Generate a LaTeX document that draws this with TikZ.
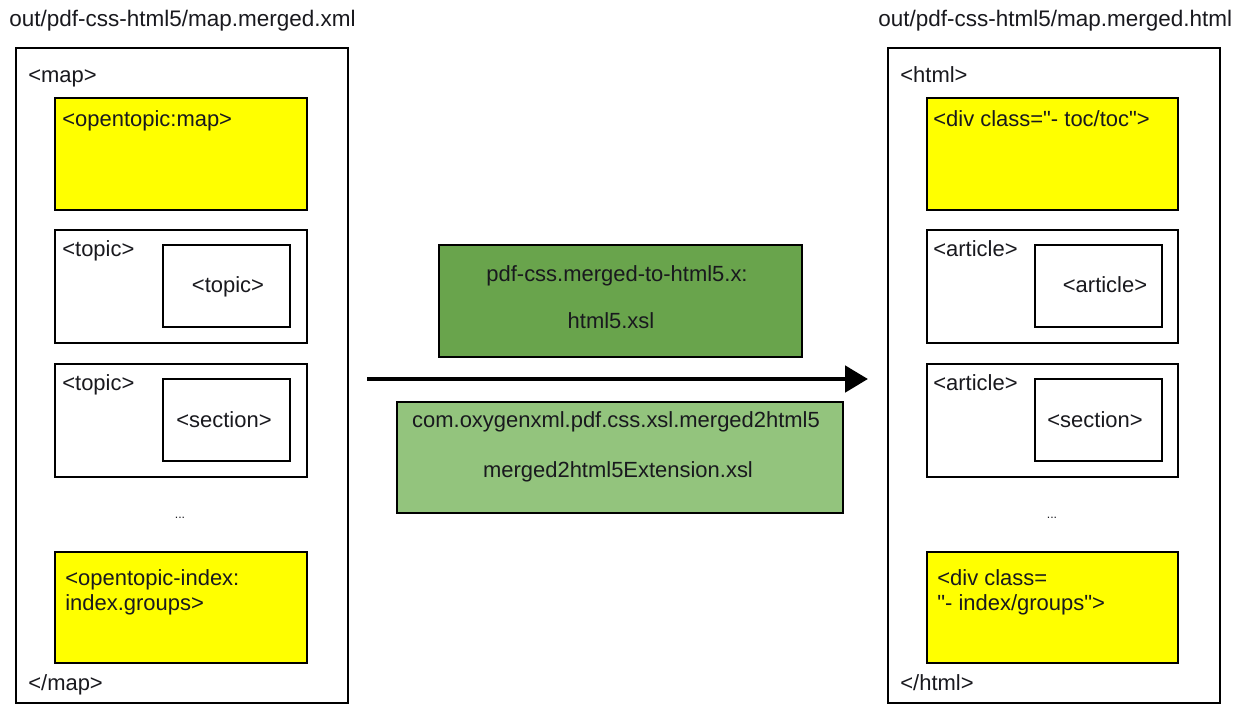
\documentclass[tikz,border=0pt]{standalone}
\usepackage{fontspec}
\setmainfont{Liberation Sans}[Ligatures=TeXOff]
\usetikzlibrary{fit,arrows.meta}
\definecolor{ylw}{RGB}{255,255,0}
\definecolor{dkgreen}{RGB}{105,164,76}
\definecolor{ltgreen}{RGB}{147,196,125}
\definecolor{ink}{RGB}{25,25,30}
\tikzset{
  box/.style={draw=black, line width=1.6pt, inner sep=0pt, fill=white},
  ybox/.style={box, fill=ylw},
  dbox/.style={box, fill=dkgreen},
  lbox/.style={box, fill=ltgreen},
  txt/.style={inner sep=0pt, text=ink, font=\fontsize{12.5}{15}\selectfont},
  ttl/.style={inner sep=0pt, text=ink, font=\fontsize{12.8}{15}\selectfont},
  flow/.style={line width=2.8pt, -{Triangle[length=0.46cm,width=0.52cm]}}
}
\begin{document}
\begin{tikzpicture}[x=0.02cm,y=-0.02cm]
\fill[white] (0,0) rectangle (1243,707);
\useasboundingbox (0,0) rectangle (1243,707);

% ---------------- left side ----------------
\node[ttl, anchor=base west] (ltitle) at (9,26) {out/pdf-css-html5/map.merged.xml};
\node[box, fit={(16,48)(348,703)}] (lout) {};
\node[txt, anchor=base west] (lmap) at (28,82) {<map>};
\node[ybox, fit={(55,98)(307,210)}] (ly1) {};
\node[txt, anchor=base west] (ly1t) at (62,126) {<opentopic:map>};
\node[box, fit={(55,230)(307,343)}] (lt1) {};
\node[txt, anchor=base west] (lt1t) at (62,256) {<topic>};
\node[box, fit={(163,245)(290,327)}] (lt1i) {};
\node[txt, anchor=base] (lt1it) at (228,292) {<topic>};
\node[box, fit={(55,364)(307,477)}] (lt2) {};
\node[txt, anchor=base west] (lt2t) at (62,390) {<topic>};
\node[box, fit={(163,379)(290,461)}] (lt2i) {};
\node[txt, anchor=base] (lt2it) at (224,427) {<section>};
\node[inner sep=0pt, font=\scriptsize, text=ink] (ldots) at (180,518) {...};
\node[ybox, fit={(55,552)(307,663)}] (ly2) {};
\node[txt, anchor=base west] (ly2a) at (65,585) {<opentopic-index:};
\node[txt, anchor=base west] (ly2b) at (65,610) {index.groups>};
\node[txt, anchor=base west] (lend) at (28,690) {</map>};

% ---------------- right side ----------------
\node[ttl, anchor=base west] (rtitle) at (878,26) {out/pdf-css-html5/map.merged.html};
\node[box, fit={(888,48)(1220,703)}] (rout) {};
\node[txt, anchor=base west] (rhtml) at (900,82) {<html>};
\node[ybox, fit={(927,98)(1178,210)}] (ry1) {};
\node[txt, anchor=base west] (ry1t) at (933,126) {<div class="- toc/toc">};
\node[box, fit={(927,230)(1178,343)}] (ra1) {};
\node[txt, anchor=base west] (ra1t) at (933,256) {<article>};
\node[box, fit={(1035,245)(1162,327)}] (ra1i) {};
\node[txt, anchor=base] (ra1it) at (1105,292) {<article>};
\node[box, fit={(927,364)(1178,477)}] (ra2) {};
\node[txt, anchor=base west] (ra2t) at (933,390) {<article>};
\node[box, fit={(1035,379)(1162,461)}] (ra2i) {};
\node[txt, anchor=base] (ra2it) at (1095,427) {<section>};
\node[inner sep=0pt, font=\scriptsize, text=ink] (rdots) at (1052,518) {...};
\node[ybox, fit={(927,552)(1178,663)}] (ry2) {};
\node[txt, anchor=base west] (ry2a) at (937,585) {<div class=};
\node[txt, anchor=base west] (ry2b) at (937,610) {"- index/groups">};
\node[txt, anchor=base west] (rend) at (900,690) {</html>};

% ---------------- middle ----------------
\node[dbox, fit={(439,245)(802,357)}] (xsl1) {};
\node[txt, anchor=base] (xsl1a) at (617,281) {pdf-css.merged-to-html5.x:};
\node[txt, anchor=base] (xsl1b) at (611,328) {html5.xsl};
\node[lbox, fit={(397,402)(843,513)}] (xsl2) {};
\node[txt, anchor=base] (xsl2a) at (616,427) {com.oxygenxml.pdf.css.xsl.merged2html5};
\node[txt, anchor=base] (xsl2b) at (618,477) {merged2html5Extension.xsl};

\coordinate (arS) at (367,379);
\coordinate (arE) at (868,379);
\draw[flow] (arS) -- (arE);
\end{tikzpicture}
\end{document}
